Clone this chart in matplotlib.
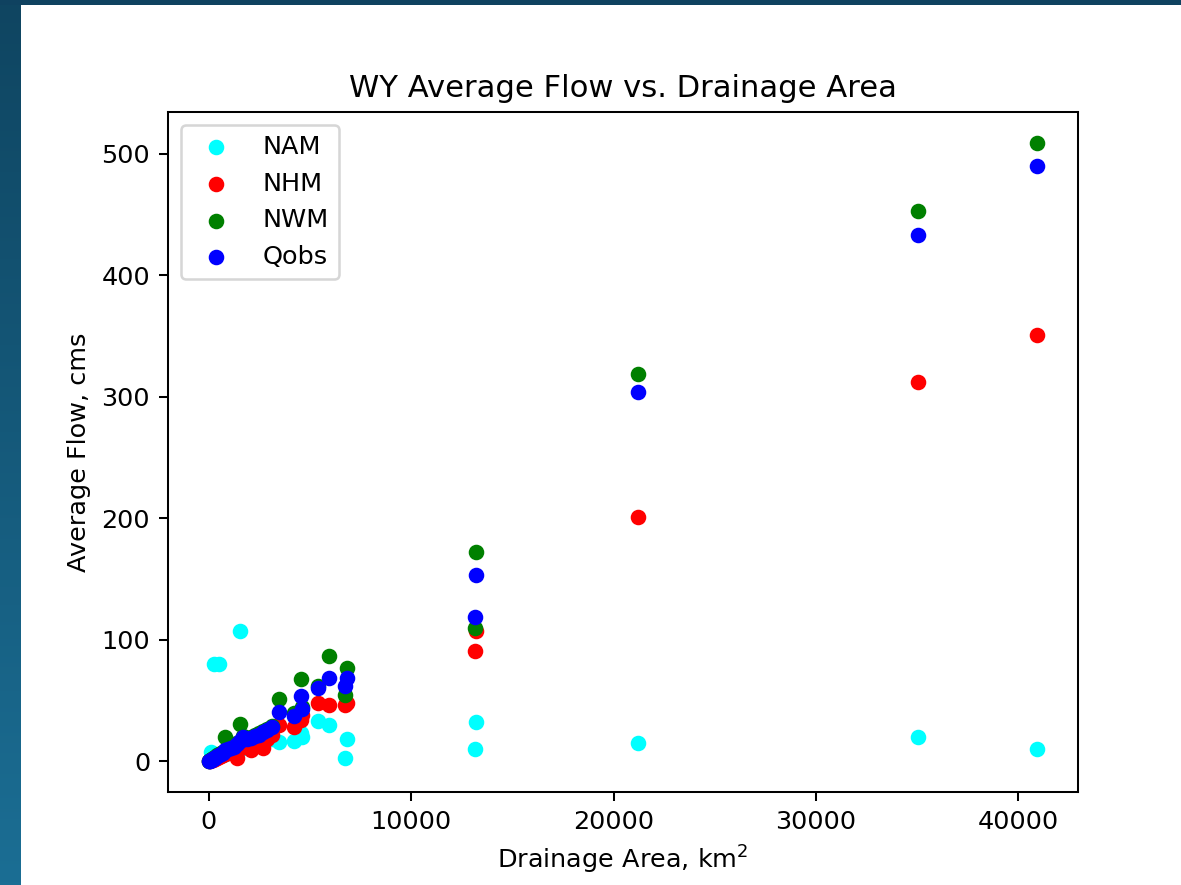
import matplotlib.pyplot as plt
import numpy as np
from matplotlib.colors import LinearSegmentedColormap

# drainage area (km2) per site
area = [40900, 35060, 21230, 13200, 13150, 6830, 6750, 5930, 5390, 4570, 4600, 4190, 3480,
        3100, 2900, 2700, 2500, 2300, 2100, 1900, 1700, 1550, 1400, 1250, 1100, 950, 800,
        700, 600, 500, 400, 300, 250, 200, 150, 100, 60, 30]

nam = [10, 20, 15, 32, 10, 18, 2.5, 30, 33, 23.5, 20, 16.5, 16,
       18, 20, 17, 15, 14, 16, 12, 11, 107, 9, 8, 9, 7, 6,
       5, 5, 80, 4, 3, 80, 6, 2, 8, 1, 0.5]
nhm = [351, 312, 201, 107, 91, 48, 46, 46, 48, 34, 38, 28, 30,
       22, 18, 11, 16, 15, 9, 13, 12, 11, 3, 9, 8, 7, 6,
       5, 4.5, 3.5, 3, 2, 1.8, 1.5, 1, 0.8, 0.4, 0.2]
nwm = [509, 453, 319, 172, 110, 77, 55, 87, 62, 68, 45, 40, 51,
       29, 27, 25, 23, 22, 20, 19, 21, 31, 15, 14, 13, 12, 20,
       8, 7, 6, 5, 3.5, 3, 2.5, 2, 1.2, 0.8, 0.4]
qobs = [490, 433, 304, 153, 119, 69, 62, 69, 60, 54, 43, 37, 41,
        28, 26, 24, 22, 21, 19, 18, 20, 17, 14, 12, 11, 10, 9,
        7, 6, 5, 4, 3, 2.5, 2, 1.5, 1, 0.6, 0.3]

xticks = [0, 10000, 20000, 30000, 40000]

W, H = 1181, 885
dpi = 183.5
fig = plt.figure(figsize=(W / dpi, H / dpi), dpi=dpi)

# screenshot border (dark blue strip at left and top)
bax = fig.add_axes([0, 0, 21 / W, 1])
grad = np.linspace(0, 1, 256).reshape(-1, 1)
cmap = LinearSegmentedColormap.from_list('edge', ['#0f4561', '#1b6e94'])
bax.imshow(grad, aspect='auto', cmap=cmap, extent=[0, 1, 0, 1], origin='upper')
bax.axis('off')
tax = fig.add_axes([0, 1 - 5 / H, 1, 5 / H])
tax.set_facecolor('#0f4260')
tax.set_xticks([])
tax.set_yticks([])
for s in tax.spines.values():
    s.set_visible(False)

ax = fig.add_axes([168 / W, 1 - 792 / H, (1078 - 168) / W, (792 - 112) / H])
ax.scatter(area, nam, color='cyan', s=26, label='NAM')
ax.scatter(area, nhm, color='red', s=26, label='NHM')
ax.scatter(area, nwm, color='green', s=26, label='NWM')
ax.scatter(area, qobs, color='blue', s=26, label='Qobs')
ax.set_xticks(xticks)
ax.set_title('WY Average Flow vs. Drainage Area')
ax.set_xlabel('Drainage Area, km$^2$')
ax.set_ylabel('Average Flow, cms')
ax.legend(loc='upper left')

fig.savefig('out.png', dpi=dpi)
